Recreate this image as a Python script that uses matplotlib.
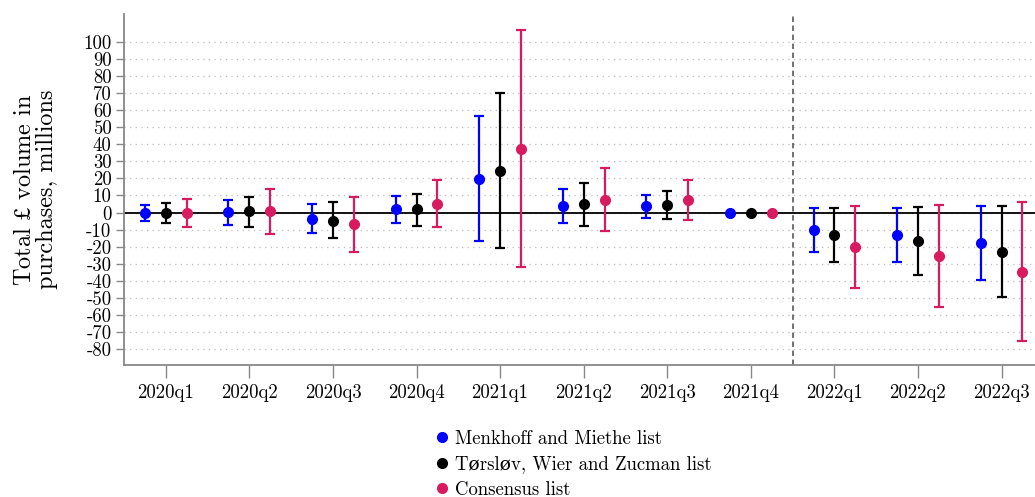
import matplotlib
matplotlib.use("Agg")
import matplotlib.pyplot as plt
from matplotlib.lines import Line2D
import numpy as np

plt.rcParams['font.family'] = ['cmr10', 'DejaVu Serif']
plt.rcParams['mathtext.fontset'] = 'cm'
plt.rcParams['axes.unicode_minus'] = False

quarters = ["2020q1", "2020q2", "2020q3", "2020q4", "2021q1", "2021q2",
            "2021q3", "2021q4", "2022q1", "2022q2", "2022q3"]

series_names = ["Menkhoff and Miethe list",
                "Tørsløv, Wier and Zucman list",
                "Consensus list"]

mm_est = [0.0, 0.4, -3.7, 1.8, 19.9, 3.7, 3.7, 0.0, -10.1, -12.9, -17.9]
mm_hi = [4.7, 7.4, 5.1, 9.8, 56.6, 13.8, 10.3, 0.0, 2.7, 2.9, 3.9]
mm_lo = [-5.1, -7.0, -12.1, -6.2, -16.8, -6.2, -2.9, 0.0, -23.2, -29.1, -39.6]

twz_est = [0.0, 0.8, -4.7, 1.8, 24.6, 4.9, 4.7, 0.0, -12.9, -16.4, -22.8]
twz_hi = [5.7, 9.4, 6.0, 11.1, 70.2, 17.2, 12.5, 0.0, 2.9, 3.1, 4.1]
twz_lo = [-5.9, -8.4, -15.0, -7.6, -20.9, -7.6, -3.5, 0.0, -29.1, -36.3, -49.5]

con_est = [0.0, 0.8, -6.8, 5.3, 37.4, 7.2, 7.2, 0.0, -20.1, -25.4, -34.9]
con_hi = [8.0, 14.0, 9.2, 18.9, 107.1, 25.9, 19.1, 0.0, 3.9, 4.5, 5.9]
con_lo = [-8.4, -12.7, -22.8, -8.4, -32.0, -10.9, -4.3, 0.0, -44.1, -55.0, -75.3]

colors = ["#0000FF", "#000000", "#D81B60"]
offsets = [-0.25, 0.0, 0.25]

yticks = list(range(-80, 101, 10))

fig = plt.figure(figsize=(10.35, 4.97), dpi=100)
ax = fig.add_axes([0.1198, 0.2656, 0.8802, 0.7062])

x = np.arange(len(quarters))

for y in yticks:
    ax.axhline(y, color="#bbbbbb", lw=0.9, ls=(0, (1, 3.5)), zorder=0)
ax.axhline(0, color="black", lw=1.3, zorder=1)
ax.axvline(7.5, color="#666666", lw=1.3, ls=(0, (3, 2)), zorder=1)

data = [(mm_est, mm_lo, mm_hi), (twz_est, twz_lo, twz_hi), (con_est, con_lo, con_hi)]
for (est, lo, hi), c, off in zip(data, colors, offsets):
    est = np.array(est); lo = np.array(lo); hi = np.array(hi)
    has = hi != lo
    ax.errorbar(x[has] + off, est[has], yerr=[est[has] - lo[has], hi[has] - est[has]],
                fmt='none', ecolor=c, elinewidth=1.6, capsize=3.3, capthick=1.6, zorder=2)
    ax.plot(x + off, est, 'o', color=c, ms=7, zorder=3)

ax.set_xlim(-0.5, 10.4)
ax.set_ylim(-89.2, 116.2)
ax.set_xticks(x)
ax.set_xticklabels(quarters, fontsize=13.5)
ax.set_yticks(yticks)
ax.set_yticklabels([str(v) for v in yticks], fontsize=13.5)
ax.tick_params(axis='x', length=9, width=1, color="#888888", pad=5)
ax.tick_params(axis='y', length=6, width=1, color="#888888", pad=3)

for s in ["top", "right"]:
    ax.spines[s].set_visible(False)
for s in ["left", "bottom"]:
    ax.spines[s].set_color("#888888")
    ax.spines[s].set_linewidth(1.3)

ylab = ax.set_ylabel("Total $\\mathit{£}$ volume in\npurchases, millions",
                     fontsize=17.5, linespacing=1.0)
ylab.set_math_fontfamily('stix')
try:
    fig.canvas.draw()
except Exception:
    ylab.set_text("Total £ volume in\npurchases, millions")
    ylab.set_family(['DejaVu Serif'])
ax.yaxis.set_label_coords(-0.072, 0.5)

handles = [Line2D([], [], marker='o', ls='none', color=c, ms=7) for c in colors]
ax.legend(handles, series_names, loc='upper center', bbox_to_anchor=(0.492, -0.148),
          frameon=False, fontsize=13.5, handletextpad=0.2, labelspacing=0.4,
          handlelength=1.0, borderpad=0.2)

fig.savefig("out.png", dpi=100)
